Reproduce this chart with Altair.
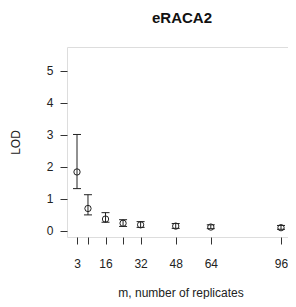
import altair as alt
import pandas as pd

m_vals = [3, 8, 16, 24, 32, 48, 64, 96]
lod_mean = [1.84, 0.70, 0.37, 0.24, 0.19, 0.15, 0.12, 0.10]
lod_low = [1.32, 0.50, 0.27, 0.14, 0.11, 0.08, 0.07, 0.05]
lod_high = [3.01, 1.13, 0.57, 0.35, 0.29, 0.23, 0.19, 0.17]
x_ticks = [3, 8, 16, 24, 32, 48, 64, 96]
y_ticks = [0, 1, 2, 3, 4, 5]

df = pd.DataFrame({"m": m_vals, "lod": lod_mean, "lo": lod_low, "hi": lod_high})

FONT = "Liberation Sans"
xs = alt.Scale(domain=[-1.56, 99.19], nice=False, zero=False)
ys = alt.Scale(domain=[-0.19, 5.74], nice=False, zero=False)

x_axis = alt.Axis(
    values=x_ticks, labelExpr="datum.value == 8 || datum.value == 24 ? '' : datum.label",
    domain=False, grid=False, tickSize=7, tickColor="#333", labelPadding=23,
    labelBaseline="alphabetic", labelOverlap=False, labelFlush=False,
    labelFont=FONT, labelFontSize=12, labelColor="#222",
    title="m, number of replicates", titleFont=FONT, titleFontSize=12,
    titleFontWeight="normal", titleColor="#222", titleX=113.5, titleY=59,
    titleBaseline="alphabetic", titleAnchor="middle")
y_axis = alt.Axis(
    values=y_ticks, domain=False, grid=False, tickSize=7, tickColor="#333",
    labelOverlap=False, labelFlush=False,
    labelPadding=7, labelFont=FONT, labelFontSize=12, labelColor="#222",
    title="LOD", titleFont=FONT, titleFontSize=12, titleFontWeight="normal",
    titleColor="#222", titleX=-48, titleY=95, titleBaseline="alphabetic",
    titleAnchor="middle", titleAngle=270)

X = lambda f: alt.X(f, scale=xs, axis=x_axis, title="m, number of replicates")
Y = lambda f: alt.Y(f, scale=ys, axis=y_axis, title="LOD")

base = alt.Chart(df)
bars = base.mark_rule(color="#222", strokeWidth=1).encode(
    x=X("m:Q"), y=Y("lo:Q"), y2="hi:Q")
cap_hi = base.mark_rule(color="#222", strokeWidth=1, xOffset=-4, x2Offset=4).encode(
    x=X("m:Q"), x2="m:Q", y=Y("hi:Q"))
cap_lo = base.mark_rule(color="#222", strokeWidth=1, xOffset=-4, x2Offset=4).encode(
    x=X("m:Q"), x2="m:Q", y=Y("lo:Q"))
pts = base.mark_point(shape="circle", size=40, filled=False, color="#222", strokeWidth=1, opacity=1).encode(
    x=X("m:Q"), y=Y("lod:Q"))

chart = alt.layer(bars, cap_hi, cap_lo, pts).properties(
    width=221, height=190,
    title=alt.TitleParams("eRACA2", font=FONT, fontSize=15, fontWeight="bold",
                          anchor="middle", offset=21, color="#111", dx=4.5),
    autosize=alt.AutoSizeParams(type="none"),
    padding={"left": 59, "top": 39, "right": 0, "bottom": 62},
).configure_view(stroke="#444", strokeWidth=1.2).configure_axis(
    labelOverlap=False, labelFlush=False).configure(background="white")

chart.save("out.html", embed_options={"renderer": "svg", "actions": False})
